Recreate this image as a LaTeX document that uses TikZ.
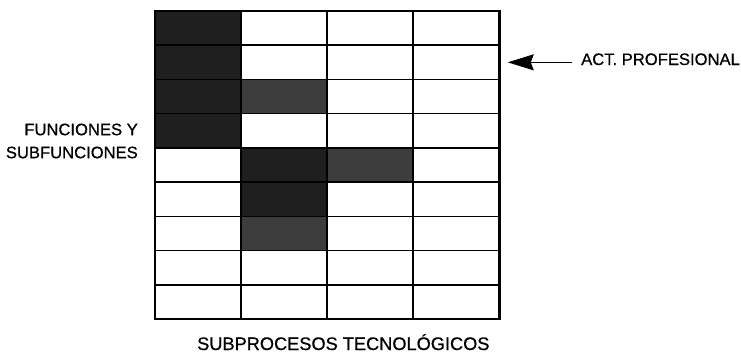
\documentclass[tikz,border=0pt]{standalone}
\usepackage{fontspec}
\setmainfont[FakeBold=0.6]{Liberation Sans}
\usetikzlibrary{arrows.meta, positioning, calc}
\tikzset{
	celda/.style   ={rectangle, draw=black, line width=1.5pt, minimum width=86pt, minimum height=34.2pt, inner sep=0pt, fill=white},
	oscura/.style  ={celda, fill=black!88},
	clara/.style   ={celda, fill=black!76},
	rotulo/.style  ={inner sep=0pt, font=\fontsize{16.6}{23}\selectfont},
	flecha/.style  ={-{Stealth[length=26pt, width=16pt, inset=3pt]}, line width=1.3pt},
}
\begin{document}
\begin{tikzpicture}[x=1pt, y=-1pt]
	\useasboundingbox (0,0) rectangle (741,354);
	% matriz de 9 filas x 4 columnas
	\foreach \r in {1,...,9} {
		\foreach \c in {1,...,4} {
			\node[celda] (c-\r-\c) at ({155+86*(\c-0.5)}, {11+34.22*(\r-0.5)}) {};
		}
	}
	% celdas sombreadas
	\foreach \r/\c/\s in {1/1/oscura, 2/1/oscura, 3/1/oscura, 4/1/oscura, 3/2/clara,
	                      5/2/oscura, 5/3/clara, 6/2/oscura, 7/2/clara} {
		\node[\s] at (c-\r-\c) {};
	}
	% redibujar bordes
	\draw[line width=1.5pt] (c-1-1.north west) rectangle (c-9-4.south east);
	\node[rotulo, anchor=base west] (act) at (581,65) {ACT. PROFESIONAL};
	\draw[flecha, shorten <=9pt, shorten >=8pt] (c-2-4.east -| act.west) -- (c-2-4.east);
	\node[rotulo, align=right, anchor=east] (func) at (138,141) {FUNCIONES Y\\SUBFUNCIONES};
	\node[rotulo, font=\fontsize{18.2}{22}\selectfont, anchor=base west] (subp) at (197,350) {SUBPROCESOS TECNOLÓGICOS};
\end{tikzpicture}
\end{document}
